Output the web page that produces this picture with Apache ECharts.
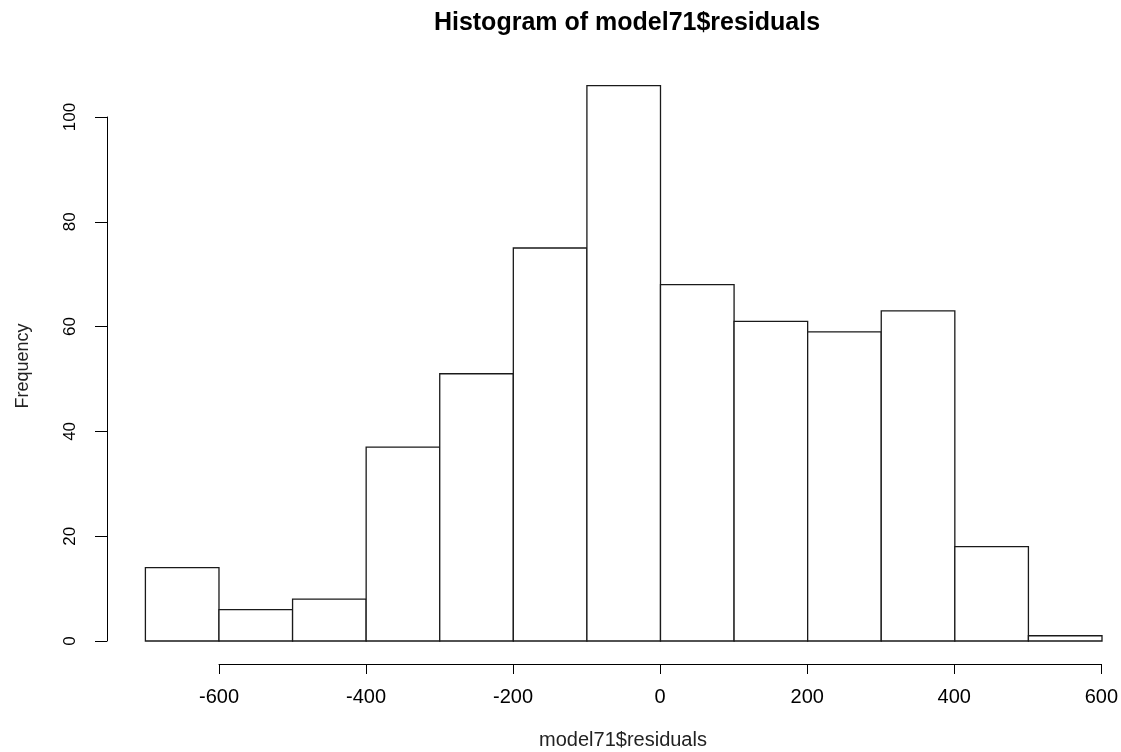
<!DOCTYPE html>
<html>
<head>
<meta charset="utf-8">
<script src="https://cdn.jsdelivr.net/npm/echarts@6/dist/echarts.min.js"></script>
<style>
  html, body { margin: 0; padding: 0; background: #fff; }
  #chart { width: 1121px; height: 752px; }
</style>
</head>
<body>
<div id="chart"></div>
<script>
// Histogram bins: left edge of each bin (width 100) and its count
const binStarts = [-700, -600, -500, -400, -300, -200, -100, 0, 100, 200, 300, 400, 500];
const binWidth = 100;
const counts = [14, 6, 8, 37, 51, 75, 106, 68, 61, 59, 63, 18, 1];
const xTicks = [-600, -400, -200, 0, 200, 400, 600];
const yTicks = [0, 20, 40, 60, 80, 100];

const FONT = '"Liberation Sans", Arial, sans-serif';
const barData = binStarts.map((s, i) => [s, s + binWidth, counts[i]]);

const chart = echarts.init(document.getElementById('chart'), null, { renderer: 'canvas' });

chart.setOption({
  backgroundColor: '#ffffff',
  animation: false,
  title: [
    {
      text: 'Histogram of model71$residuals',
      left: 622, top: 6, textAlign: 'center',
      textStyle: { fontFamily: FONT, fontSize: 25, fontWeight: 'bold', color: '#000' }
    },
    {
      // x axis title, centred under the plotting region
      text: 'model71$residuals',
      left: 623, top: 730, textAlign: 'center', padding: 0,
      textStyle: { fontFamily: FONT, fontSize: 20, fontWeight: 'normal', color: '#222' }
    }
  ],
  graphic: [{
    // y axis title
    type: 'text', x: 23, y: 366, rotation: Math.PI / 2,
    style: { text: 'Frequency', fontFamily: FONT, fontSize: 18, fill: '#222',
      align: 'center', verticalAlign: 'middle' }
  }],
  grid: [
    // plotting area for the bars
    { left: 145.4, width: 956.6, top: 64.6, height: 576.4 },
    // detached x axis
    { left: 219, width: 883, top: 600, height: 64 },
    // detached y axis
    { left: 107, width: 40, top: 117, height: 524 }
  ],
  xAxis: [
    { gridIndex: 0, type: 'value', min: -700, max: 600, show: false },
    {
      gridIndex: 1, type: 'value', min: -600, max: 600, interval: 200,
      axisLine: { show: true, lineStyle: { color: '#000', width: 1 } },
      axisTick: { show: true, length: 10, lineStyle: { color: '#000', width: 1 } },
      axisLabel: { margin: 23, fontFamily: FONT, fontSize: 20, color: '#000',
        customValues: xTicks, showMinLabel: true, showMaxLabel: true },
      splitLine: { show: false }
    },
    { gridIndex: 2, type: 'value', show: false }
  ],
  yAxis: [
    { gridIndex: 0, type: 'value', min: 0, max: 110, show: false },
    { gridIndex: 1, type: 'value', show: false },
    {
      gridIndex: 2, type: 'value', min: 0, max: 100, interval: 20,
      axisLine: { show: true, lineStyle: { color: '#000', width: 1 } },
      axisTick: { show: true, length: 12, lineStyle: { color: '#000', width: 1 } },
      axisLabel: { rotate: 90, margin: 28, fontFamily: FONT, fontSize: 17, color: '#000',
        customValues: yTicks, showMinLabel: true, showMaxLabel: true },
      splitLine: { show: false }
    }
  ],
  series: [{
    type: 'custom',
    xAxisIndex: 0, yAxisIndex: 0,
    data: barData,
    renderItem: function (params, api) {
      const p0 = api.coord([api.value(0), 0]);
      const p1 = api.coord([api.value(1), api.value(2)]);
      return {
        type: 'rect',
        shape: { x: p0[0], y: p1[1], width: p1[0] - p0[0], height: p0[1] - p1[1] },
        style: { fill: '#ffffff', stroke: '#1a1a1a', lineWidth: 1.3 }
      };
    }
  }]
});
</script>
</body>
</html>
